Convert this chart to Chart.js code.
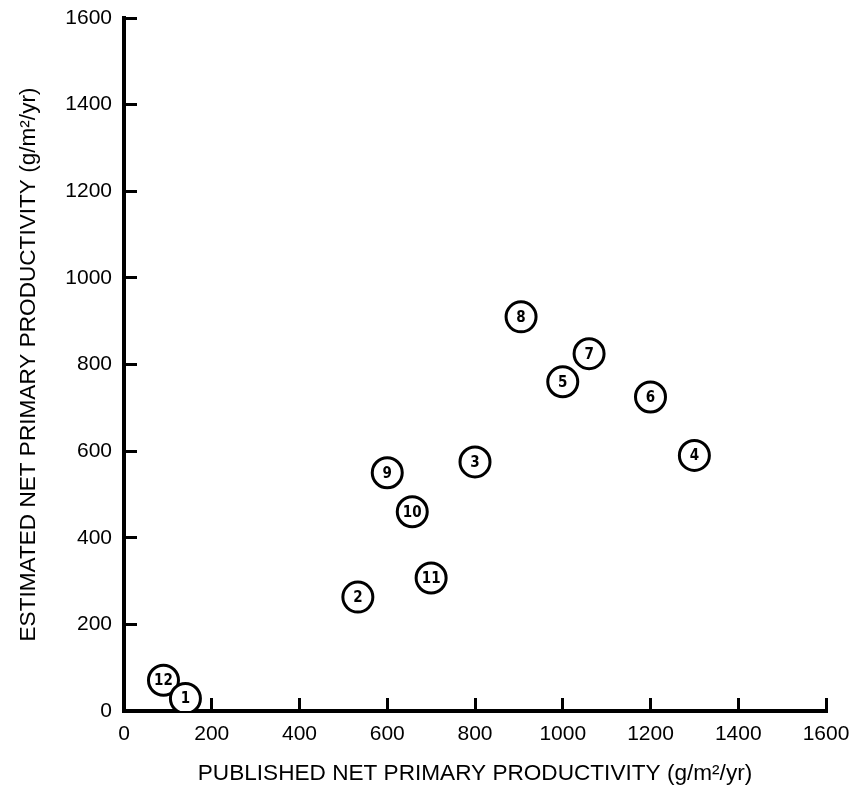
<!DOCTYPE html>
<html>
<head>
<meta charset="utf-8">
<title>Net primary productivity</title>
<script src="https://cdn.jsdelivr.net/npm/chart.js@4/dist/chart.umd.min.js"></script>
<style>
  html, body { margin: 0; padding: 0; background: #fff; }
  canvas { display: block; }
</style>
</head>
<body>
<canvas id="nppChart" width="852" height="793"></canvas>
<script>
// --- data ---
// site numbers, drawn in this order (12 sits under 1)
const siteIds = [12, 1, 2, 3, 4, 5, 6, 7, 8, 9, 10, 11];
const publishedNpp = [90, 140, 533, 800, 1300, 1000, 1200, 1060, 905, 600, 657, 700];
const estimatedNpp = [71, 29, 263, 575, 590, 760, 725, 825, 910, 550, 460, 307];
const tickValues = [0, 200, 400, 600, 800, 1000, 1200, 1400, 1600];

const INK = '#000';
const tickFont = { family: '"Liberation Sans", Arial, sans-serif', size: 21 };
const titleFont = { family: '"Liberation Sans", Arial, sans-serif', size: 22.6 };

// --- write the site number inside each circle ---
const circleNumbers = {
  id: 'circleNumbers',
  afterDatasetsDraw(chart) {
    const ctx = chart.ctx;
    const meta = chart.getDatasetMeta(0);
    ctx.save();
    ctx.fillStyle = INK;
    ctx.font = 'bold 15px "Liberation Sans Narrow", "DejaVu Sans Condensed", "Liberation Sans", sans-serif';
    ctx.textAlign = 'center';
    ctx.textBaseline = 'middle';
    meta.data.forEach((pt, i) => {
      ctx.fillText(String(siteIds[i]), pt.x, pt.y + 1);
    });
    ctx.restore();
  }
};

// keep the plot box where the figure has it, ignore label overhang
function fixX(s) {
  s.height = 76;
  s.paddingLeft = 0;
  s.paddingRight = 0;
}
function fixY(s) {
  s.width = 124;
  s.paddingTop = 0;
  s.paddingBottom = 0;
}

const points = publishedNpp.map((x, i) => ({ x: x, y: estimatedNpp[i] }));

new Chart(document.getElementById('nppChart'), {
  type: 'scatter',
  data: {
    datasets: [{
      data: points,
      pointStyle: 'circle',
      pointRadius: 15,
      pointHoverRadius: 15,
      pointBorderWidth: 3,
      pointBorderColor: INK,
      pointBackgroundColor: '#fff'
    }]
  },
  options: {
    responsive: false,
    animation: false,
    layout: { padding: { top: 16, right: 26, bottom: 6, left: 0 } },
    plugins: {
      legend: { display: false },
      tooltip: { enabled: false }
    },
    scales: {
      x: {
        type: 'linear',
        min: 0,
        max: 1600,
        afterFit: fixX,
        afterBuildTicks: s => { s.ticks = tickValues.map(v => ({ value: v })); },
        border: { display: true, color: INK, width: 4 },
        grid: { drawOnChartArea: false, drawTicks: true, tickLength: -13, tickWidth: 3, tickColor: INK },
        ticks: { color: INK, font: tickFont, padding: 24, maxRotation: 0, callback: v => String(v) },
        title: {
          display: true,
          text: 'PUBLISHED NET PRIMARY PRODUCTIVITY (g/m²/yr)',
          color: INK,
          font: titleFont,
          padding: { top: 0, bottom: 0 }
        }
      },
      y: {
        type: 'linear',
        min: 0,
        max: 1600,
        afterFit: fixY,
        afterBuildTicks: s => { s.ticks = tickValues.map(v => ({ value: v })); },
        border: { display: true, color: INK, width: 4 },
        grid: { drawOnChartArea: false, drawTicks: true, tickLength: -13, tickWidth: 3, tickColor: INK },
        ticks: { color: INK, font: tickFont, padding: 25, callback: v => String(v) },
        title: {
          display: true,
          text: 'ESTIMATED NET PRIMARY PRODUCTIVITY (g/m²/yr)',
          color: INK,
          font: titleFont,
          padding: { top: 15, bottom: 0 }
        }
      }
    }
  },
  plugins: [circleNumbers]
});
</script>
</body>
</html>
